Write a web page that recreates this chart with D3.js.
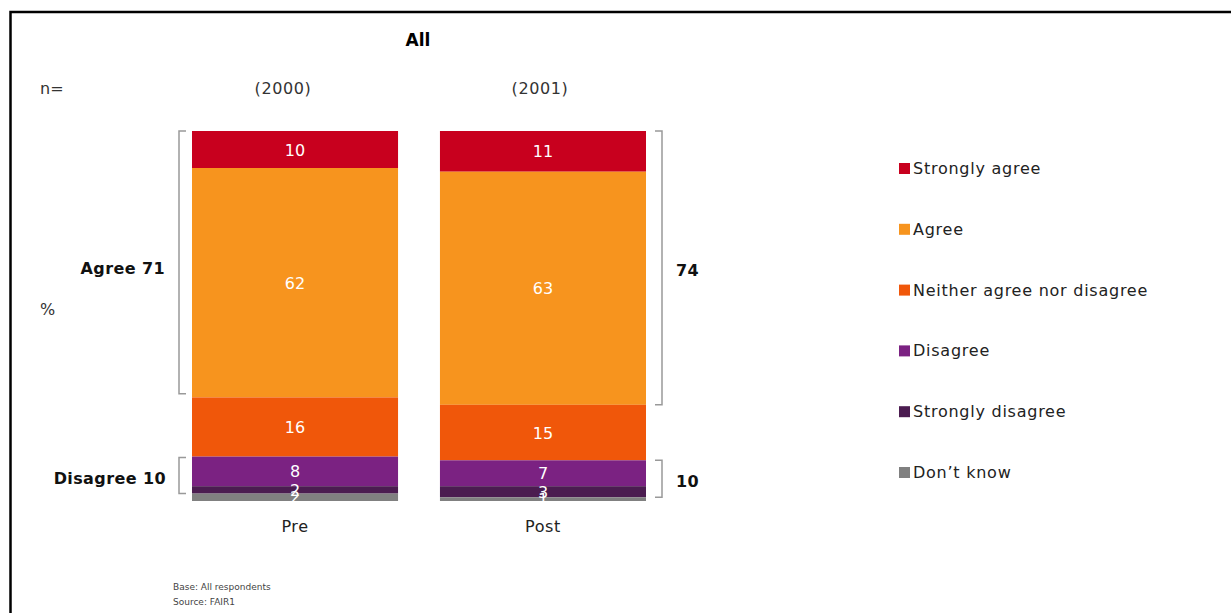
<!DOCTYPE html>
<html>
<head>
<meta charset="utf-8">
<script src="https://cdnjs.cloudflare.com/ajax/libs/d3/7.8.5/d3.min.js"></script>
<style>
  body { margin: 0; background: #fff; }
  svg { font-family: "DejaVu Sans", Verdana, sans-serif; }
</style>
</head>
<body>
<div id="chart"></div>
<script>
// chart data
var waves = ["Pre", "Post"];
var baseSizes = ["(2000)", "(2001)"];
var categories = ["Strongly agree", "Agree", "Neither agree nor disagree", "Disagree", "Strongly disagree", "Don\u2019t know"];
var preValues = [10, 62, 16, 8, 2, 2];
var postValues = [11, 63, 15, 7, 3, 1];
var agreeNets = [71, 74];
var disagreeNets = [10, 10];
var colors = ["#c8001e", "#f7941e", "#f0570a", "#7b2282", "#4b1c50", "#808080"];

var width = 1231, height = 613;

var svg = d3.select("#chart").append("svg")
  .attr("width", width)
  .attr("height", height);

// frame
svg.append("path")
  .attr("d", "M10.5,613 V12 H1231")
  .attr("fill", "none")
  .attr("stroke", "#000")
  .attr("stroke-width", 2.5);

var x = d3.scaleBand()
  .domain(waves)
  .range([192, 646])
  .paddingInner(0.169)
  .paddingOuter(0);

var y = d3.scaleLinear()
  .domain([0, 100])
  .range([131, 501]);

var allValues = [preValues, postValues];

var stacks = waves.map(function(w, i) {
  var acc = 0;
  return allValues[i].map(function(v, j) {
    var s = {wave: w, cat: j, value: v, y0: acc, y1: acc + v};
    acc += v;
    return s;
  });
});

var bars = svg.append("g").selectAll("g")
  .data(stacks)
  .enter().append("g");

bars.selectAll("rect")
  .data(d => d)
  .enter().append("rect")
  .attr("x", d => x(d.wave))
  .attr("width", x.bandwidth())
  .attr("y", d => y(d.y0))
  .attr("height", d => y(d.y1) - y(d.y0))
  .attr("fill", d => colors[d.cat]);

bars.selectAll("text")
  .data(d => d)
  .enter().append("text")
  .attr("x", d => x(d.wave) + x.bandwidth() / 2)
  .attr("y", d => (y(d.y0) + y(d.y1)) / 2 + 6)
  .attr("text-anchor", "middle")
  .attr("fill", "#fff")
  .style("font-size", "16px")
  .text(d => d.value);

// x labels
svg.append("g").selectAll("text")
  .data(waves)
  .enter().append("text")
  .attr("x", d => x(d) + x.bandwidth() / 2)
  .attr("y", 532)
  .attr("text-anchor", "middle")
  .style("font-size", "16px")
  .style("letter-spacing", "0.6px")
  .attr("fill", "#222")
  .text(d => d);

// base sizes
svg.append("g").selectAll("text")
  .data(baseSizes)
  .enter().append("text")
  .attr("x", (d, i) => x(waves[i]) + x.bandwidth() / 2 - (i === 0 ? 12 : 3))
  .attr("y", 94)
  .attr("text-anchor", "middle")
  .style("font-size", "16px")
  .style("letter-spacing", "0.6px")
  .attr("fill", "#333")
  .text(d => d);

svg.append("text").attr("x", 40).attr("y", 94)
  .style("font-size", "16px").attr("fill", "#333").text("n=");
svg.append("text").attr("x", 40).attr("y", 315)
  .style("font-size", "16px").attr("fill", "#333").text("%");

svg.append("text").attr("x", 418).attr("y", 46)
  .attr("text-anchor", "middle")
  .style("font-size", "17px").style("font-weight", "bold")
  .text("All");

// brackets
function bracket(side, xPos, top, bottom) {
  var tick = 7 * side;
  svg.append("path")
    .attr("d", "M" + (xPos + tick) + "," + top + " H" + xPos + " V" + bottom + " H" + (xPos + tick))
    .attr("fill", "none")
    .attr("stroke", "#999")
    .attr("stroke-width", 1.5);
}

var preLeft = x("Pre") - 13;
var postRight = x("Post") + x.bandwidth() + 16;

bracket(1, preLeft, y(0), y(agreeNets[0]));
bracket(1, preLeft, y(100 - disagreeNets[0] - preValues[5]) + 1, y(100 - preValues[5]));
bracket(-1, postRight, y(0), y(agreeNets[1]));
bracket(-1, postRight, y(100 - disagreeNets[1] - postValues[5]), y(100 - postValues[5]));

function netLabel(xPos, yPos, anchor, txt) {
  svg.append("text")
    .attr("x", xPos).attr("y", yPos)
    .attr("text-anchor", anchor)
    .style("font-size", "16px").style("font-weight", "bold")
    .style("letter-spacing", "0.4px")
    .attr("fill", "#111")
    .text(txt);
}
netLabel(165, 274, "end", "Agree " + agreeNets[0]);
netLabel(166, 484, "end", "Disagree " + disagreeNets[0]);
netLabel(676, 276, "start", agreeNets[1]);
netLabel(676, 487, "start", disagreeNets[1]);

// legend
var legend = svg.append("g").selectAll("g")
  .data(categories)
  .enter().append("g")
  .attr("transform", (d, i) => "translate(899," + (168 + i * 60.8) + ")");

legend.append("rect")
  .attr("x", 0).attr("y", -5)
  .attr("width", 11).attr("height", 11)
  .attr("fill", (d, i) => colors[i]);

legend.append("text")
  .attr("x", 14).attr("y", 6)
  .style("font-size", "16px")
  .style("letter-spacing", "0.75px")
  .attr("fill", "#222")
  .text(d => d);

// footnote
svg.append("text").attr("x", 173).attr("y", 590)
  .style("font-size", "9px").attr("fill", "#444").text("Base: All respondents");
svg.append("text").attr("x", 173).attr("y", 605)
  .style("font-size", "9px").attr("fill", "#444").text("Source: FAIR1");
</script>
</body>
</html>
